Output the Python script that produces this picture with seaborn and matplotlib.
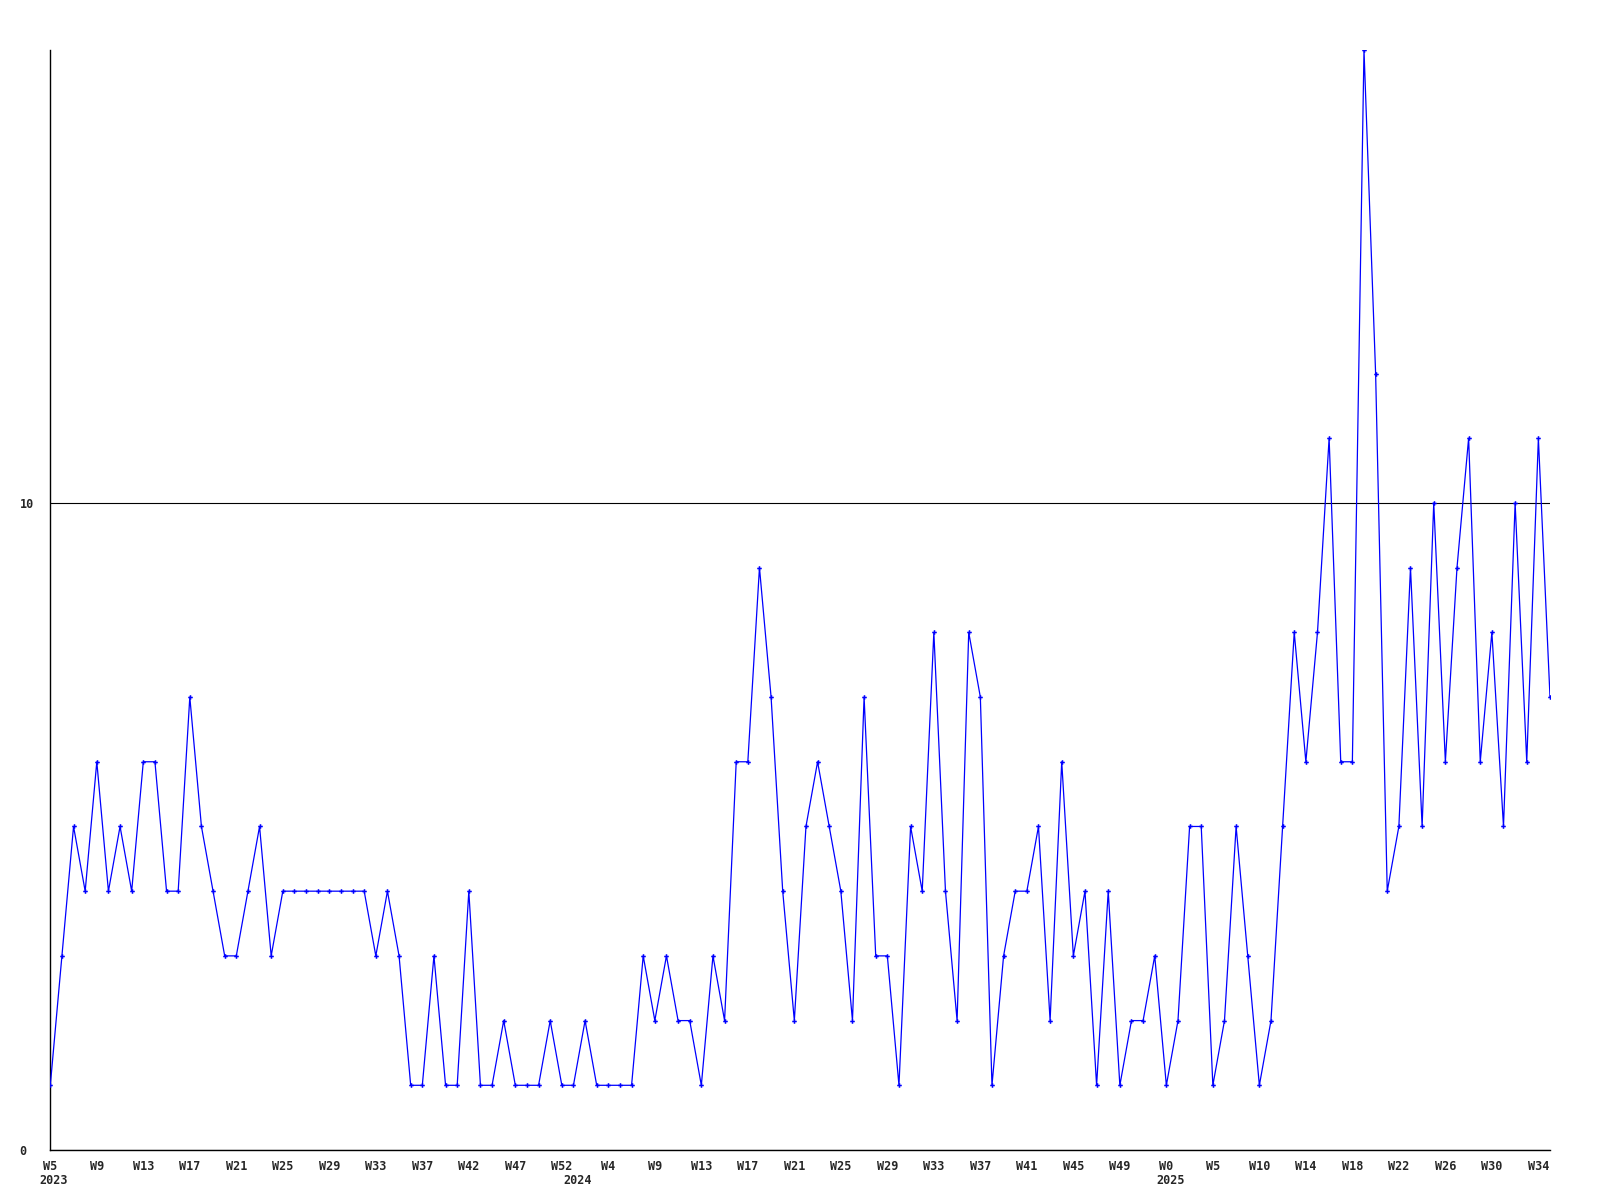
import matplotlib
matplotlib.use("Agg")
import matplotlib.pyplot as plt
import seaborn as sns
import pandas as pd

# ---- data (weekly counts) ----
values = [1, 3, 5, 4, 6, 4, 5, 4, 6, 6,
          4, 4, 7, 5, 4, 3, 3, 4, 5, 3,
          4, 4, 4, 4, 4, 4, 4, 4, 3, 4,
          3, 1, 1, 3, 1, 1, 4, 1, 1, 2,
          1, 1, 1, 2, 1, 1, 2, 1, 1, 1,
          1, 3, 2, 3, 2, 2, 1, 3, 2, 6,
          6, 9, 7, 4, 2, 5, 6, 5, 4, 2,
          7, 3, 3, 1, 5, 4, 8, 4, 2, 8,
          7, 1, 3, 4, 4, 5, 2, 6, 3, 4,
          1, 4, 1, 2, 2, 3, 1, 2, 5, 5,
          1, 2, 5, 3, 1, 2, 5, 8, 6, 8,
          11, 6, 6, 17, 12, 4, 5, 9, 5, 10,
          6, 9, 11, 6, 8, 5, 10, 6, 11, 7]

tick_labels = ["W5", "W9", "W13", "W17", "W21", "W25", "W29", "W33", "W37",
               "W42", "W47", "W52", "W4", "W9", "W13", "W17", "W21", "W25",
               "W29", "W33", "W37", "W41", "W45", "W49", "W0", "W5", "W10",
               "W14", "W18", "W22", "W26", "W30", "W34"]
tick_step = 4

year_labels = ["2023", "2024", "2025"]
year_first_point = [0, 45, 96]

y_tick_values = [0, 10]

df = pd.DataFrame({"idx": range(len(values)), "count": values})

# ---- style ----
sns.set_style("white")
plt.rcParams["font.family"] = ["DejaVu Sans Mono", "DejaVu Sans"]
plt.rcParams["font.weight"] = "bold"

W, H, DPI = 1600, 1200, 100
fig = plt.figure(figsize=(W / DPI, H / DPI), dpi=DPI)
ax = fig.add_axes([50.3 / W, 50 / H, (1550 - 50.3) / W, 1100 / H])

sns.lineplot(data=df, x="idx", y="count", ax=ax, color="#0000ff",
             linewidth=0.9, marker="P", markersize=3.3,
             markeredgewidth=0, markerfacecolor="#0000ff", zorder=3)

ax.set_xlim(0, len(values) - 1)
ax.set_ylim(0, max(values))

ax.set_xticks(list(range(0, len(values), tick_step)))
ax.set_xticklabels(tick_labels, fontsize=8.5, fontweight="bold")
ax.set_yticks(y_tick_values)
ax.set_yticklabels([str(v) for v in y_tick_values], fontsize=8.5,
                   fontweight="bold", ha="left")
ax.tick_params(axis="x", length=0, pad=7)
ax.tick_params(axis="y", length=0, pad=22)

ax.yaxis.grid(True, color="black", linewidth=0.8)
ax.xaxis.grid(False)
ax.set_axisbelow(True)

for side in ["top", "right"]:
    ax.spines[side].set_visible(False)
for side in ["left", "bottom"]:
    ax.spines[side].set_color("black")
    ax.spines[side].set_linewidth(1.0)

ax.set_xlabel("")
ax.set_ylabel("")

trans = ax.get_xaxis_transform()
for lab, pos in zip(year_labels, year_first_point):
    ax.text(pos - 0.9, -0.0275, lab, transform=trans, ha="left", va="center",
            fontsize=8.5, fontweight="bold", clip_on=False)

fig.savefig("out.png", dpi=DPI, facecolor="white")
